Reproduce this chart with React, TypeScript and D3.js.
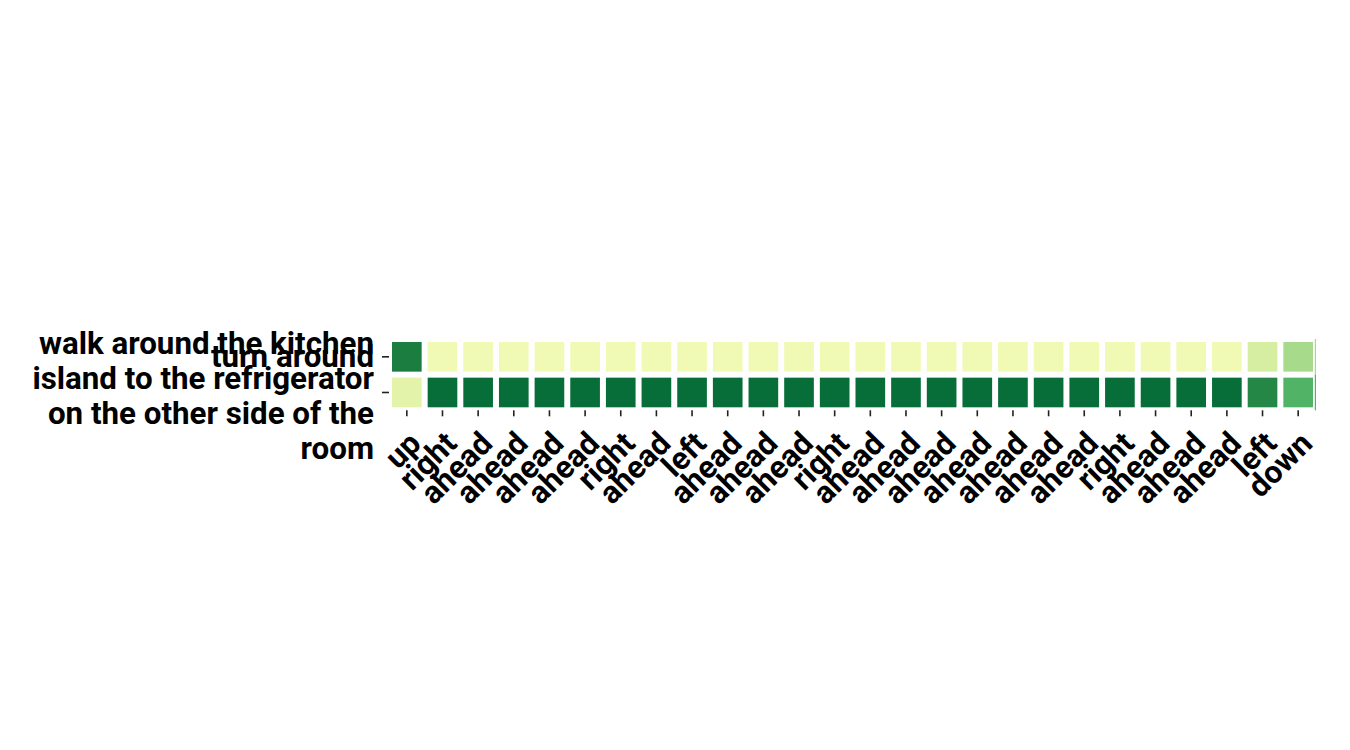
import React, { useRef, useEffect } from 'react';
import * as d3 from 'd3';

const actions = [
  'up', 'right', 'ahead', 'ahead', 'ahead', 'ahead', 'right', 'ahead', 'left',
  'ahead', 'ahead', 'ahead', 'right', 'ahead', 'ahead', 'ahead', 'ahead', 'ahead',
  'ahead', 'ahead', 'right', 'ahead', 'ahead', 'ahead', 'left', 'down',
];

const instructions = [
  'turn around',
  'walk around the kitchen\nisland to the refrigerator\non the other side of the\nroom',
];

const turnAround = [
  0.78, 0.15, 0.15, 0.15, 0.15, 0.15, 0.15, 0.15, 0.15, 0.15, 0.15, 0.15, 0.15,
  0.15, 0.15, 0.15, 0.15, 0.15, 0.15, 0.15, 0.15, 0.15, 0.15, 0.15, 0.26, 0.39,
];

const walkAround = [
  0.21, 0.85, 0.85, 0.85, 0.85, 0.85, 0.85, 0.85, 0.85, 0.85, 0.85, 0.85, 0.85,
  0.85, 0.85, 0.85, 0.85, 0.85, 0.85, 0.85, 0.85, 0.85, 0.85, 0.85, 0.74, 0.59,
];

const ylGn = ['#ffffe5', '#f7fcb9', '#d9f0a3', '#addd8e', '#78c679', '#41ab5d', '#238443', '#006837', '#004529'];

function Heatmap({ width = 1350, height = 750 }) {
  const svgRef = useRef(null);

  useEffect(() => {
    const margin = { top: 339, left: 389, right: 34, bottom: 339 };
    const rows = [turnAround, walkAround];
    const fontSize = 31.3;
    const lineHeight = 34.7;

    const svg = d3.select(svgRef.current);
    svg.selectAll('*').remove();

    const x = d3.scaleBand()
      .domain(d3.range(actions.length))
      .range([margin.left, width - margin.right])
      .padding(0);

    const y = d3.scaleBand()
      .domain(d3.range(instructions.length))
      .range([margin.top, margin.top + x.bandwidth() * instructions.length]);

    const color = d3.scaleLinear()
      .domain(d3.range(ylGn.length).map(i => i / (ylGn.length - 1)))
      .range(ylGn)
      .clamp(true);

    const cells = [];
    rows.forEach((row, r) => row.forEach((v, c) => cells.push({ r, c, v })));

    const gap = 3;
    svg.append('g')
      .selectAll('rect')
      .data(cells)
      .enter()
      .append('rect')
      .attr('x', d => x(d.c) + gap)
      .attr('y', d => y(d.r) + gap)
      .attr('width', x.bandwidth() - gap * 2)
      .attr('height', y.bandwidth() - gap * 2)
      .attr('fill', d => color(d.v));

    // thin sliver of the last column showing at the right edge
    const last = actions.length - 1;
    svg.append('g')
      .selectAll('rect')
      .data(cells.filter(d => d.c === last))
      .enter()
      .append('rect')
      .attr('x', x(last) + x.bandwidth() - 1.2)
      .attr('y', d => y(d.r))
      .attr('width', 1.2)
      .attr('height', y.bandwidth())
      .attr('fill', d => color(d.v));

    const gridBottom = y.range()[1];

    // x ticks + labels
    const xTicks = svg.append('g');
    actions.forEach((a, i) => {
      const cx = x(i) + x.bandwidth() / 2;
      xTicks.append('line')
        .attr('x1', cx).attr('x2', cx)
        .attr('y1', gridBottom).attr('y2', gridBottom + 6)
        .attr('stroke', '#222').attr('stroke-width', 1.6);
      xTicks.append('text')
        .attr('transform', `translate(${cx + 16}, ${gridBottom + 35}) rotate(-45)`)
        .attr('text-anchor', 'end')
        .attr('font-family', 'Roboto, sans-serif')
        .attr('font-weight', 700)
        .attr('font-size', fontSize)
        .attr('fill', '#000')
        .text(a);
    });

    // y ticks + labels
    const yTicks = svg.append('g');
    instructions.forEach((label, i) => {
      const cy = y(i) + y.bandwidth() / 2;
      yTicks.append('line')
        .attr('x1', margin.left - 7).attr('x2', margin.left)
        .attr('y1', cy).attr('y2', cy)
        .attr('stroke', '#222').attr('stroke-width', 1.6);
      const lines = label.split('\n');
      const extra = lines.length > 1 ? 3.5 : 0;
      const t = yTicks.append('text')
        .attr('text-anchor', 'end')
        .attr('font-family', 'Roboto, sans-serif')
        .attr('font-weight', 700)
        .attr('font-size', fontSize)
        .attr('fill', '#000');
      lines.forEach((ln, k) => {
        t.append('tspan')
          .attr('x', margin.left - 15)
          .attr('y', cy + 10.5 + extra + (k - (lines.length - 1) / 2) * lineHeight)
          .text(ln);
      });
    });
  }, [width, height]);

  return (
    <svg
      ref={svgRef}
      width={width}
      height={height}
      style={{ position: 'absolute', left: 0, top: 0, background: '#fff' }}
    />
  );
}

export default function App() {
  return <Heatmap />;
}
